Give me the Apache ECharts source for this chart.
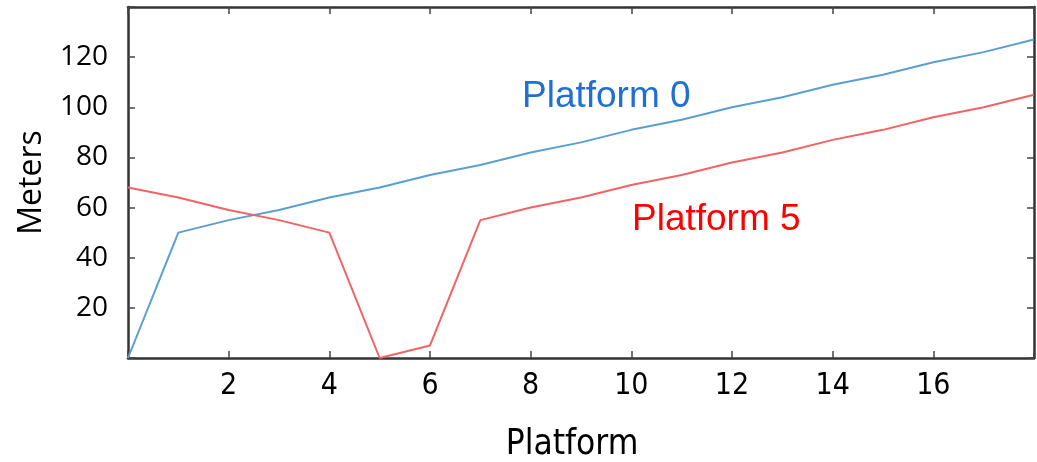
<!DOCTYPE html>
<html><head><meta charset="utf-8">
<script src="https://cdn.jsdelivr.net/npm/echarts@6/dist/echarts.min.js"></script>
<style>html,body{margin:0;padding:0;background:#fff}#c{width:1037px;height:462px}</style>
</head><body><div id="c"></div>
<script>
const platforms = [0,1,2,3,4,5,6,7,8,9,10,11,12,13,14,15,16,17,18];
const platform0 = [0,50,55,59,64,68,73,77,82,86,91,95,100,104,109,113,118,122,127];
const platform5 = [68,64,59,55,50,0,5,55,60,64,69,73,78,82,87,91,96,100,105];
const seriesNames = ['Platform 0','Platform 5'];
const xTickLabels = ['2','4','6','8','10','12','14','16'];
const yTickLabels = ['20','40','60','80','100','120'];

const chart = echarts.init(document.getElementById('c'));
const frame = {show:true, onZero:false, lineStyle:{color:'#333', width:2.5}};
const tickIn = {show:true, inside:true, length:7, lineStyle:{color:'#444', width:1.5}};
chart.setOption({
  animation:false,
  grid:{left:128, right:3, top:7, bottom:104, containLabel:false, outerBoundsMode:'none'},
  xAxis:[{
    type:'value', min:0, max:18, interval:2,
    axisLine:frame, axisTick:tickIn, splitLine:{show:false},
    axisLabel:{color:'#000', fontSize:30, margin:13, fontFamily:'DejaVu Sans Condensed, Liberation Sans Narrow, sans-serif',
      formatter:v=> xTickLabels.includes(String(v)) ? String(v) : ''},
    name:'Platform', nameLocation:'middle', nameGap:69,
    nameTextStyle:{color:'#000', fontSize:35, fontFamily:'DejaVu Sans Condensed, sans-serif', padding:[0,18,0,0]}
  },{
    type:'value', position:'top', min:0, max:18, interval:2,
    axisLine:frame, axisTick:tickIn, axisLabel:{show:false}, splitLine:{show:false}
  }],
  yAxis:[{
    type:'value', min:0, max:140, interval:20,
    axisLine:frame, axisTick:tickIn, splitLine:{show:false},
    axisLabel:{color:'#000', fontSize:28, margin:20, fontFamily:'Open Sans, sans-serif',
      formatter:v=> yTickLabels.includes(String(v)) ? String(v) : ''},
    name:'Meters', nameLocation:'middle', nameGap:80, nameRotate:90,
    nameTextStyle:{color:'#000', fontSize:32, fontFamily:'Open Sans, sans-serif'}
  },{
    type:'value', position:'right', min:0, max:140, interval:20,
    axisLine:frame, axisTick:tickIn, axisLabel:{show:false}, splitLine:{show:false}
  }],
  series:[
    {name:seriesNames[0], type:'line', data:platforms.map((x,i)=>[x,platform0[i]]),
     showSymbol:false, lineStyle:{color:'#5a9fd4', width:2}, itemStyle:{color:'#5a9fd4'}},
    {name:seriesNames[1], type:'line', data:platforms.map((x,i)=>[x,platform5[i]]),
     showSymbol:false, lineStyle:{color:'#f26363', width:2}, itemStyle:{color:'#f26363'}}
  ],
  graphic:[
    {type:'text', left:522, top:78, style:{text:seriesNames[0], fill:'#1f6fd6', fontSize:37, fontFamily:'Liberation Sans, Arial, sans-serif'}},
    {type:'text', left:632, top:201, style:{text:seriesNames[1], fill:'#ff0000', fontSize:37, fontFamily:'Liberation Sans, Arial, sans-serif'}}
  ]
});
</script></body></html>
